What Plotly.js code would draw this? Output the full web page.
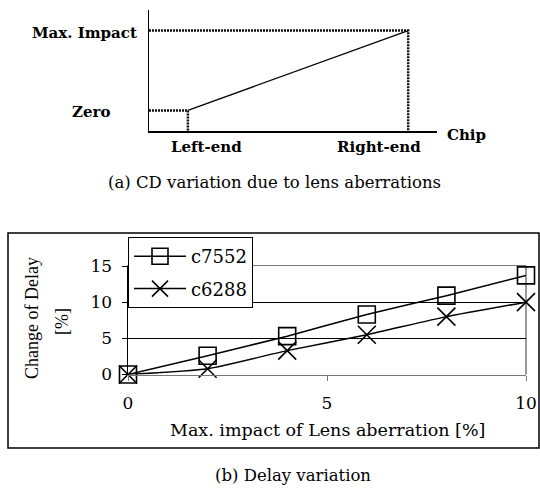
<!DOCTYPE html>
<html>
<head>
<meta charset="utf-8">
<script src="https://cdn.plot.ly/plotly-3.0.1.min.js"></script>
<style>html,body{margin:0;padding:0;background:#fff;}#chart{width:540px;height:491px;}</style>
</head>
<body>
<div id="chart"></div>
<script>
// ---- (b) Delay variation data ----
const impactPct = [0, 2, 4, 6, 8, 10];
const delayC7552 = [0, 2.6, 5.3, 8.3, 10.9, 13.7];
const delayC6288 = [0, 0.8, 3.3, 5.5, 8.0, 10.0];
const seriesNames = ['c7552', 'c6288'];
const yTickVals = [0, 5, 10, 15];
const xTickVals = [0, 5, 10];

// ---- (a) CD variation schematic ----
const chipLabels = ['Left-end', 'Right-end'];
const chipPos = [13.5, 90];
const cdLabels = ['Zero', 'Max. Impact'];
const cdLevel = [17, 83];

const W = 540, H = 491;
const px = v => v / W;
const py = v => 1 - v / H;
const SERIF = 'DejaVu Serif, serif';
const TIMES = 'Liberation Serif, Times New Roman, serif';

const traces = [
  // schematic (a)
  {x: chipPos, y: cdLevel, xaxis: 'x2', yaxis: 'y2', mode: 'lines',
   line: {color: '#000', width: 1.2}, showlegend: false, hoverinfo: 'skip'},
  {x: [0, chipPos[0], chipPos[0]], y: [cdLevel[0], cdLevel[0], 0], xaxis: 'x2', yaxis: 'y2', mode: 'lines',
   line: {color: '#111', width: 2.5, dash: '2px,1px'}, showlegend: false, hoverinfo: 'skip'},
  {x: [0, chipPos[1], chipPos[1]], y: [cdLevel[1], cdLevel[1], 0], xaxis: 'x2', yaxis: 'y2', mode: 'lines',
   line: {color: '#111', width: 2.5, dash: '2px,1px'}, showlegend: false, hoverinfo: 'skip'},
  // chart (b)
  {x: impactPct, y: delayC7552, name: seriesNames[0], mode: 'lines+markers', legendgroup: 'g1',
   line: {color: '#000', width: 1.5, shape: 'spline', smoothing: 0.5}, cliponaxis: false,
   marker: {symbol: 'square-open', size: 17, color: '#000', line: {color: '#000', width: 1.6}}},
  {x: impactPct, y: delayC6288, name: seriesNames[1], mode: 'lines+markers', legendgroup: 'g2',
   line: {color: '#000', width: 1.5, shape: 'spline', smoothing: 0.5}, cliponaxis: false,
   marker: {symbol: 'x-thin-open', size: 18, color: '#000', line: {color: '#000', width: 1.6}}}
];

const annotations = [];
const cdRight = [112, 139];
cdLabels.forEach((t, i) => annotations.push({
  text: t, xref: 'paper', yref: 'y2', x: px(cdRight[i]), y: cdLevel[i], yshift: -2,
  xanchor: 'right', yanchor: 'middle', showarrow: false,
  font: {family: SERIF, size: 15, color: '#000', weight: 'bold'}
}));
const chipCenter = [206, 379];
chipLabels.forEach((t, i) => annotations.push({
  text: t, xref: 'paper', yref: 'paper', x: px(chipCenter[i]), y: py(147),
  xanchor: 'center', yanchor: 'middle', showarrow: false,
  font: {family: SERIF, size: 15, color: '#000', weight: 'bold'}
}));
annotations.push({text: 'Chip', xref: 'paper', yref: 'paper', x: px(445), y: py(135),
  xanchor: 'left', yanchor: 'middle', showarrow: false,
  font: {family: SERIF, size: 15, color: '#000', weight: 'bold'}});
annotations.push({text: '(a) CD variation due to lens aberrations', xref: 'paper', yref: 'paper',
  x: px(274), y: py(182), xanchor: 'center', yanchor: 'middle', showarrow: false,
  font: {family: SERIF, size: 16.5, color: '#000'}});
annotations.push({text: '(b) Delay variation', xref: 'paper', yref: 'paper',
  x: px(293), y: py(475), xanchor: 'center', yanchor: 'middle', showarrow: false,
  font: {family: SERIF, size: 16.5, color: '#000'}});
annotations.push({text: 'Change of Delay', xref: 'paper', yref: 'paper', textangle: -90,
  x: px(32), y: py(318), xanchor: 'center', yanchor: 'middle', showarrow: false,
  font: {family: TIMES, size: 18, color: '#000'}});
annotations.push({text: '[%]', xref: 'paper', yref: 'paper', textangle: -90,
  x: px(62), y: py(322), xanchor: 'center', yanchor: 'middle', showarrow: false,
  font: {family: TIMES, size: 18, color: '#000'}});
annotations.push({text: 'Max. impact of Lens aberration [%]', xref: 'paper', yref: 'paper',
  x: px(327), y: py(430), xanchor: 'center', yanchor: 'middle', showarrow: false,
  font: {family: SERIF, size: 17.5, color: '#000'}});

const layout = {
  width: W, height: H,
  margin: {l: 0, r: 0, t: 0, b: 0, pad: 0},
  paper_bgcolor: '#fff', plot_bgcolor: 'rgba(0,0,0,0)',
  showlegend: true,
  font: {family: SERIF, size: 17, color: '#000'},
  xaxis: {
    domain: [px(128), px(526)], range: [0, 10], anchor: 'y',
    tickvals: xTickVals, ticks: 'outside', ticklen: 5, tickcolor: '#777', tickwidth: 1,
    showline: true, linecolor: '#777', linewidth: 1.5, mirror: true,
    showgrid: false, zeroline: false, fixedrange: true,
    tickfont: {family: SERIF, size: 17, color: '#000'}, ticklabelstandoff: 8
  },
  yaxis: {
    domain: [py(374.5), py(266)], range: [0, 15], anchor: 'x',
    tickvals: yTickVals, ticks: 'outside', ticklen: 5, tickcolor: '#000', tickwidth: 1,
    showline: true, linecolor: '#000', linewidth: 1.5,
    showgrid: true, gridcolor: '#000', gridwidth: 1, zeroline: false, fixedrange: true,
    tickfont: {family: SERIF, size: 17, color: '#000'}, ticklabelstandoff: 6
  },
  xaxis2: {
    domain: [px(149), px(437)], range: [0, 100], anchor: 'y2',
    showline: true, linecolor: '#000', linewidth: 1.5, ticks: '', showticklabels: false,
    showgrid: false, zeroline: false, fixedrange: true
  },
  yaxis2: {
    domain: [py(131), py(10)], range: [0, 100], anchor: 'x2',
    showline: true, linecolor: '#000', linewidth: 1.5, ticks: '', showticklabels: false,
    showgrid: false, zeroline: false, fixedrange: true
  },
  legend: {
    x: px(128), y: py(237), xanchor: 'left', yanchor: 'top',
    bgcolor: '#fff', bordercolor: '#000', borderwidth: 1,
    font: {family: SERIF, size: 18, color: '#000'},
    tracegroupgap: 6, itemwidth: 52
  },
  shapes: [
    {type: 'line', xref: 'x domain', yref: 'y domain', x0: 1, x1: 1, y0: 0, y1: 1,
     line: {color: '#777', width: 1.5}, layer: 'below'},
    {type: 'rect', xref: 'paper', yref: 'paper', x0: px(8), x1: px(539), y0: py(448), y1: py(233),
     line: {color: '#000', width: 1.5}, fillcolor: 'rgba(0,0,0,0)', layer: 'below'}
  ],
  annotations: annotations
};

Plotly.newPlot('chart', traces, layout, {staticPlot: true, displayModeBar: false});
</script>
</body>
</html>
